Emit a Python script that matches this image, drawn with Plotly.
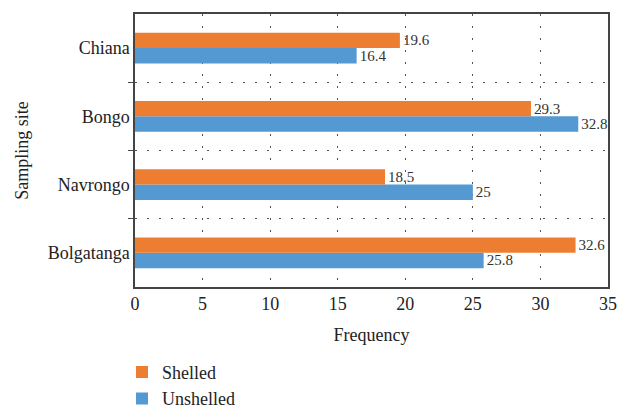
import plotly.graph_objects as go

categories = ["Bolgatanga", "Navrongo", "Bongo", "Chiana"]
shelled = [32.6, 18.5, 29.3, 19.6]
unshelled = [25.8, 25, 32.8, 16.4]
x_ticks = [0, 5, 10, 15, 20, 25, 30, 35]

pos = list(range(len(categories)))
font_family = "Liberation Serif, DejaVu Serif, serif"

fig = go.Figure()
fig.add_trace(go.Bar(
    y=pos, x=unshelled, orientation="h", name="Unshelled",
    marker=dict(color="#5599D3", line=dict(width=0)),
    text=[f"{v:g}" for v in unshelled], textposition="outside",
    textfont=dict(size=15, color="#333333", family=font_family),
    constraintext="none", cliponaxis=False, legendrank=2,
))
fig.add_trace(go.Bar(
    y=pos, x=shelled, orientation="h", name="Shelled",
    marker=dict(color="#ED7D31", line=dict(width=0)),
    text=[f"{v:g}" for v in shelled], textposition="outside",
    textfont=dict(size=15, color="#333333", family=font_family),
    constraintext="none", cliponaxis=False, legendrank=1,
))

fig.update_layout(
    width=619, height=410,
    margin=dict(l=5, r=11, t=14, b=5, autoexpand=False),
    paper_bgcolor="white", plot_bgcolor="white",
    barmode="group", bargap=0.55, bargroupgap=0,
    font=dict(family=font_family, size=18, color="#222222"),
    showlegend=True,
    legend=dict(orientation="v", x=0.194, xanchor="left", y=0.131, yanchor="top",
                font=dict(size=18, family=font_family), tracegroupgap=0,
                itemwidth=30, bgcolor="rgba(0,0,0,0)"),
    xaxis=dict(
        domain=[0.2156, 1],
        range=[0, 35], tickvals=x_ticks, ticks="", showline=True,
        linecolor="#444444", linewidth=1.5, mirror=True,
        showgrid=True, gridcolor="#555555", gridwidth=1, griddash="2px,10px",
        zeroline=False, tickfont=dict(size=18), ticklen=0, automargin=False,
        title=dict(text="Frequency", font=dict(size=18), standoff=15),
    ),
    yaxis=dict(
        domain=[0.302, 1],
        range=[-0.5, len(categories) - 0.5], tickvals=pos, ticktext=categories,
        ticks="", showgrid=False, zeroline=False, showline=True,
        linecolor="#444444", linewidth=1.5, mirror=True,
        tickfont=dict(size=18), automargin=False,
        minor=dict(tickvals=[p + 0.5 for p in pos[:-1]], ticks="outside", ticklen=5,
                   tickcolor="#444444", showgrid=True, gridcolor="#555555",
                   griddash="2px,10px", gridwidth=1),
        title=dict(text="Sampling site", font=dict(size=18), standoff=14),
    ),
)

fig.write_html("out.html", config={"displayModeBar": False},
               post_script="document.body.style.margin='0';document.body.style.overflow='hidden';")
